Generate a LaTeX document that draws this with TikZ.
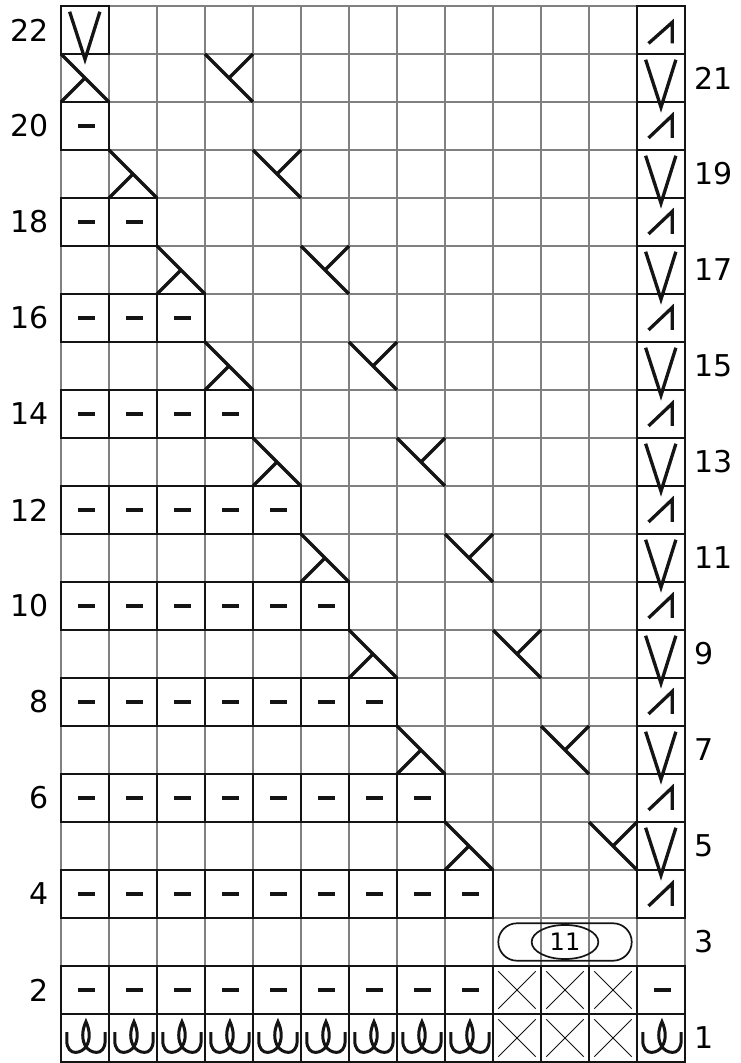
\documentclass[tikz,border=0pt]{standalone}
\usepackage{fontspec}
\setmainfont{DejaVu Sans}
\definecolor{gridgray}{RGB}{128,128,128}
\definecolor{ink}{RGB}{20,20,20}
\tikzset{
  gridline/.style={draw=gridgray, line width=2pt},
  outline/.style={draw=ink, line width=2.3pt},
  sym/.style={draw=ink, line width=3.3pt},
  thinsym/.style={draw=ink, line width=1pt},
  ovalline/.style={draw=ink, line width=1.7pt},
  rowlabel/.style={inner sep=0pt, font=\fontsize{30}{30}\selectfont},
  purlsym/.pic={\draw[sym] (0.35,0.5)--(0.71,0.5);},
  lcross/.pic={\draw[sym] (0,1)--(1,0) (0,0)--(0.5,0.5);},
  rcross/.pic={\draw[sym] (0,1)--(1,0) (0.5,0.5)--(1,1);},
  vslip/.pic={\draw[sym] (0.18,0.88)--(0.5,-0.11)--(0.81,0.88);},
  lamsym/.pic={\draw[sym] (0.24,0.25)--(0.735,0.72)--(0.735,0.25);},
  lamtop/.pic={\draw[sym] (0.24,0.22)--(0.735,0.66)--(0.735,0.22);},
  loopsym/.pic={\draw[sym, line width=3pt] (0.12,0.62) -- (0.12,0.45)
     .. controls (0.12,0.27) and (0.21,0.2) .. (0.3,0.2)
     .. controls (0.4,0.2) and (0.48,0.26) .. (0.52,0.32)
     .. controls (0.61,0.45) and (0.61,0.65) .. (0.52,0.84)
     .. controls (0.43,0.65) and (0.43,0.45) .. (0.52,0.32)
     .. controls (0.56,0.26) and (0.64,0.2) .. (0.74,0.2)
     .. controls (0.83,0.2) and (0.92,0.27) .. (0.92,0.45)
     -- (0.92,0.62);},
  xcell/.pic={\draw[thinsym] (0.11,0.11)--(0.89,0.89) (0.11,0.89)--(0.89,0.11);}
}
\begin{document}
\begin{tikzpicture}[x=1pt,y=1pt]
\useasboundingbox (0,0) rectangle (740,1063);
\fill[white] (0,0) rectangle (740,1063);
\begin{scope}[shift={(61,1)}, x=48pt, y=48pt]
  % gray grid
  \foreach \i in {0,...,13} \draw[gridline] (\i,0) -- (\i,22);
  \foreach \j in {0,...,22} \draw[gridline] (0,\j) -- (13,\j);
  % black outlines
  \draw[outline] (0,21) rectangle (1,22);
  \foreach \r in {4,...,22} \draw[outline] (12,\r-1) rectangle (13,\r);
  \foreach \k in {1,...,9} {
    \pgfmathtruncatemacro{\rr}{22-2*\k}
    \foreach \c in {1,...,\k} \draw[outline] (\c-1,\rr-1) rectangle (\c,\rr);
  }
  \foreach \r in {1,2} \foreach \c in {1,...,13} \draw[outline] (\c-1,\r-1) rectangle (\c,\r);
  % symbols
  \pic at (0,21) {vslip};
  \foreach \k in {1,...,9} {
    \pgfmathtruncatemacro{\rr}{23-2*\k}
    \pic at (\k-1,\rr-1) {lcross};
    \pic at (\k+2,\rr-1) {rcross};
    \pic at (12,\rr-1) {vslip};
  }
  \foreach \k in {1,...,9} {
    \pgfmathtruncatemacro{\rr}{22-2*\k}
    \foreach \c in {1,...,\k} \pic at (\c-1,\rr-1) {purlsym};
    \pic at (12,\rr-1) {lamsym};
  }
  \pic at (12,21) {lamtop};
  \foreach \c in {1,...,9} {
    \pic at (\c-1,1) {purlsym};
    \pic at (\c-1,0) {loopsym};
  }
  \pic at (12,1) {purlsym};
  \pic at (12,0) {loopsym};
  \foreach \c in {10,11,12} { \pic at (\c-1,1) {xcell}; \pic at (\c-1,0) {xcell}; }
  % row 3 oval
  \draw[ovalline, rounded corners=18.7pt] (9.11,2.11) rectangle (11.89,2.89);
  \draw[ovalline] (10.5,2.5) ellipse [x radius=0.695, y radius=0.355];
  \node[inner sep=0pt, font=\fontsize{24}{24}\selectfont] (n11) at (10.5,2.5) {11};
  % labels
  \foreach \r in {2,4,...,22} \node[rowlabel, anchor=east] (l\r) at (-0.25,\r-0.5) {\r};
  \foreach \r in {1,3,...,21} \node[rowlabel, anchor=west] (r\r) at (13.2,\r-0.5) {\r};
\end{scope}
\end{tikzpicture}
\end{document}
